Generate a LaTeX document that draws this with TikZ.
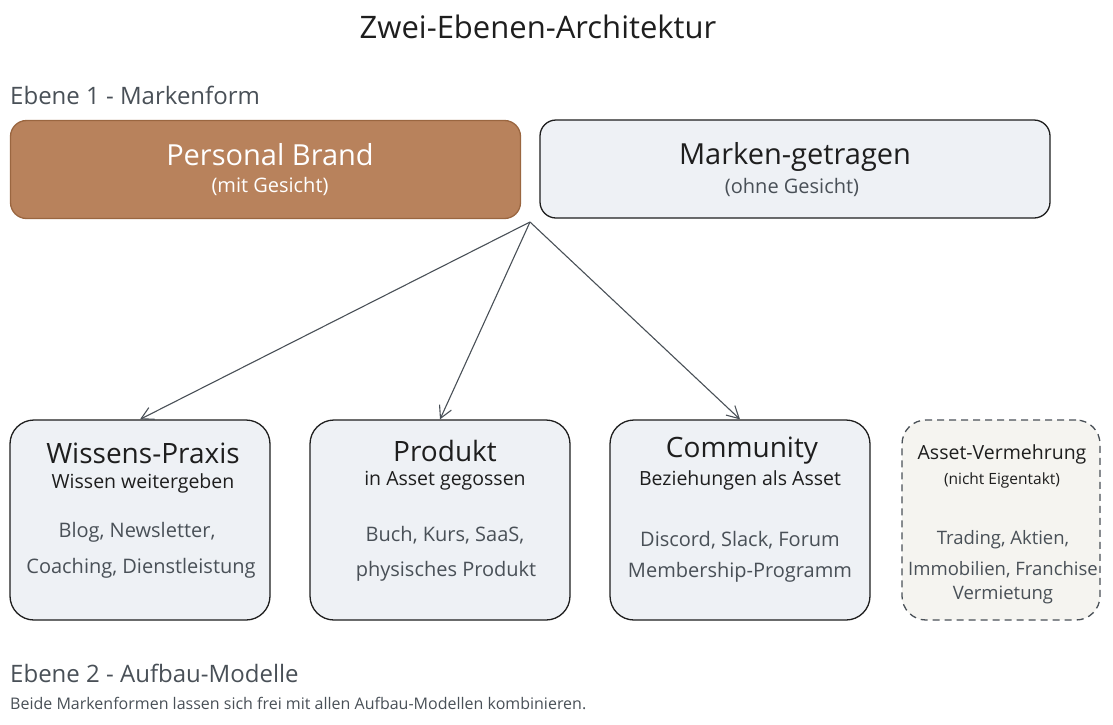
\documentclass[tikz,border=0pt]{standalone}
\usepackage{fontspec}
\setmainfont{Open Sans}
\usetikzlibrary{arrows.meta}
\definecolor{ink}{HTML}{1E1E1E}
\definecolor{muted}{HTML}{495057}
\definecolor{brandfill}{HTML}{B8825C}
\definecolor{branddraw}{HTML}{9A6640}
\definecolor{boxfill}{HTML}{EEF1F5}
\definecolor{assetfill}{HTML}{F5F4F0}
\newcommand{\fs}[1]{\fontsize{#1}{#1}\selectfont}

\begin{document}
\begin{tikzpicture}[x=1pt,y=-1pt,
  topbox/.style={draw=ink,line width=1.3pt,fill=boxfill,rounded corners=16pt,
    minimum width=510pt,minimum height=98pt,inner sep=0pt},
  modbox/.style={draw=ink,line width=1.3pt,fill=boxfill,rounded corners=24pt,
    minimum width=260pt,minimum height=200pt,inner sep=0pt},
  head/.style={text=ink,font=\fs{28}},
  sub/.style={text=ink,font=\fs{19.5}},
  body/.style={text=muted,font=\fs{20}},
  level/.style={text=muted,font=\fs{24},anchor=west,inner sep=0pt},
  arr/.style={draw=muted,line width=1.1pt,-{Straight Barb[length=12pt,width=13pt]}}]
\useasboundingbox (0,0) rectangle (1113,724);
\node[text=ink,font=\fs{31}] (title) at (538,27) {Zwei-Ebenen-Architektur};
\node[level] (ebene1) at (10,95) {Ebene 1 - Markenform};

\node[topbox,draw=branddraw,fill=brandfill] (personal) at (265.5,169.5) {};
\node[text=white,font=\fs{29}] (personalt) at (270,155) {Personal Brand};
\node[text=white,font=\fs{20}] (personals) at (270,186) {(mit Gesicht)};
\node[topbox] (marke) at (795,169) {};
\node[head,font=\fs{29}] (market) at (795,157) {Marken-getragen};
\node[body] (markes) at (792,187) {(ohne Gesicht)};

\node[modbox] (wissen) at (140,520) {};
\node[head] (wissent) at (143,453) {Wissens-Praxis};
\node[sub] (wissens) at (143,483) {Wissen weitergeben};
\node[body] (wissenb1) at (137,532) {Blog, Newsletter,};
\node[body] (wissenb2) at (141,568) {Coaching, Dienstleistung};

\node[modbox] (produkt) at (440,520) {};
\node[head] (produktt) at (445,451) {Produkt};
\node[sub] (produkts) at (445,481) {in Asset gegossen};
\node[body] (produktb1) at (445,535) {Buch, Kurs, SaaS,};
\node[body] (produktb2) at (446,571) {physisches Produkt};

\node[modbox] (community) at (740,520) {};
\node[head] (communityt) at (742,451) {Community};
\node[sub] (communitys) at (740,480) {Beziehungen als Asset};
\node[body] (communityb1) at (740,540) {Discord, Slack, Forum};
\node[body] (communityb2) at (740,572) {Membership-Programm};

\node[modbox,draw=muted,fill=assetfill,dashed,dash pattern=on 7pt off 5pt,
  minimum width=198pt] (asset) at (1001,520) {};
\node[sub] (assett) at (1002,454) {Asset-Vermehrung};
\node[sub,font=\fs{15.5}] (assets) at (1002,480) {(nicht Eigentakt)};
\node[body,font=\fs{18.5}] (assetb1) at (1003,540) {Trading, Aktien,};
\node[body,font=\fs{18.5}] (assetb2) at (1003,570) {Immobilien, Franchise};
\node[body,font=\fs{18.5}] (assetb3) at (1003,595) {Vermietung};

\coordinate (fork) at (530,222);
\draw[arr] (fork) -- (wissen.north);
\draw[arr] (fork) -- (produkt.north);
\draw[arr] (fork) -- (community.north);

\node[level] (ebene2) at (10,673) {Ebene 2 - Aufbau-Modelle};
\node[text=muted,font=\fs{16},anchor=west,inner sep=0pt] (hinweis) at (10,703)
  {Beide Markenformen lassen sich frei mit allen Aufbau-Modellen kombinieren.};
\end{tikzpicture}
\end{document}
